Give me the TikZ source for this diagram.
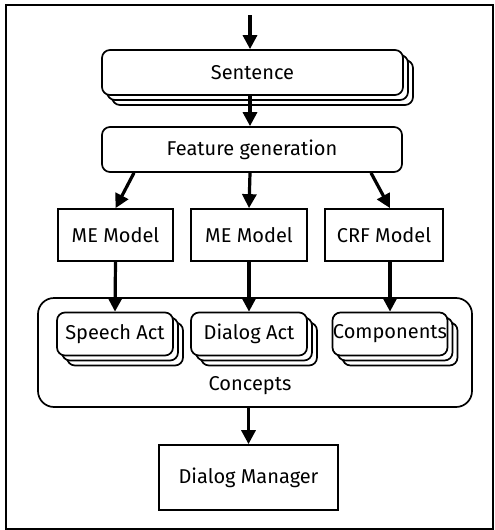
\documentclass[tikz,border=0pt]{standalone}
\usepackage{fontspec}
\setmainfont{Fira Sans}
\usetikzlibrary{arrows.meta,shadows}

\tikzset{
  label font/.style={font=\fontsize{20}{22}\selectfont},
  box/.style={draw, line width=1.7pt, fill=white, inner sep=0pt, label font},
  rbox/.style={box, rounded corners=8pt},
  stacked/.style={rbox,
    copy shadow={shadow xshift=10pt, shadow yshift=-10pt, fill=white, draw=black, line width=1.7pt},
    copy shadow={shadow xshift=5pt, shadow yshift=-5pt, fill=white, draw=black, line width=1.7pt}},
  flow/.style={line width=3.2pt, -{Triangle[length=14pt,width=14pt]}}
}

\begin{document}
\begin{tikzpicture}[x=1pt, y=-1pt]
  \useasboundingbox (0,0) rectangle (495,530);
  % outer frame
  \draw[line width=1.2pt] (6,5) rectangle (493,529);

  % input and sentence stack
  \coordinate (in) at (250,15);
  \node[stacked, minimum width=301pt, minimum height=45pt] (sent) at (252.5,72.5) {Sentence};
  \node[rbox, minimum width=300pt, minimum height=45pt] (feat) at (252,149.5) {Feature generation};

  % classifiers
  \node[box, minimum width=115pt, minimum height=52pt] (me1) at (115.5,235) {ME Model};
  \node[box, minimum width=116pt, minimum height=52pt] (me2) at (249,235) {ME Model};
  \node[box, minimum width=118pt, minimum height=52pt] (crf) at (384,235) {CRF Model};

  % concepts container
  \node[draw, line width=1.7pt, rounded corners=16pt, minimum width=434pt, minimum height=109pt] (conc) at (255,352.5) {};
  \node[label font] (conclabel) at (250,386) {Concepts};
  \node[stacked, minimum width=116pt, minimum height=43pt] (sa) at (115,334) {Speech Act};
  \node[stacked, minimum width=116pt, minimum height=43pt] (da) at (249,334) {Dialog Act};
  \node[stacked, minimum width=115pt, minimum height=43pt] (comp) at (390,334) {Components};

  % dialog manager
  \node[box, minimum width=179pt, minimum height=65pt] (dm) at (248.5,477.5) {Dialog Manager};

  % connectors
  \draw[flow] (in) -- (sent.north -| in);
  \draw[flow] ([xshift=-2.5pt]sent.south) -- ([xshift=-2pt]feat.north);
  \draw[flow] ([xshift=-118pt]feat.south) -- (me1.north);
  \draw[flow] ([xshift=-2pt]feat.south) -- (me2.north);
  \draw[flow] ([xshift=119pt]feat.south) -- (crf.north -| comp.north);
  \draw[flow] (me1.south) -- (sa.north);
  \draw[flow] (me2.south) -- (da.north);
  \draw[flow] (crf.south -| comp.north) -- (comp.north);
  \draw[flow] (conc.south -| dm.north) -- (dm.north);
\end{tikzpicture}
\end{document}
